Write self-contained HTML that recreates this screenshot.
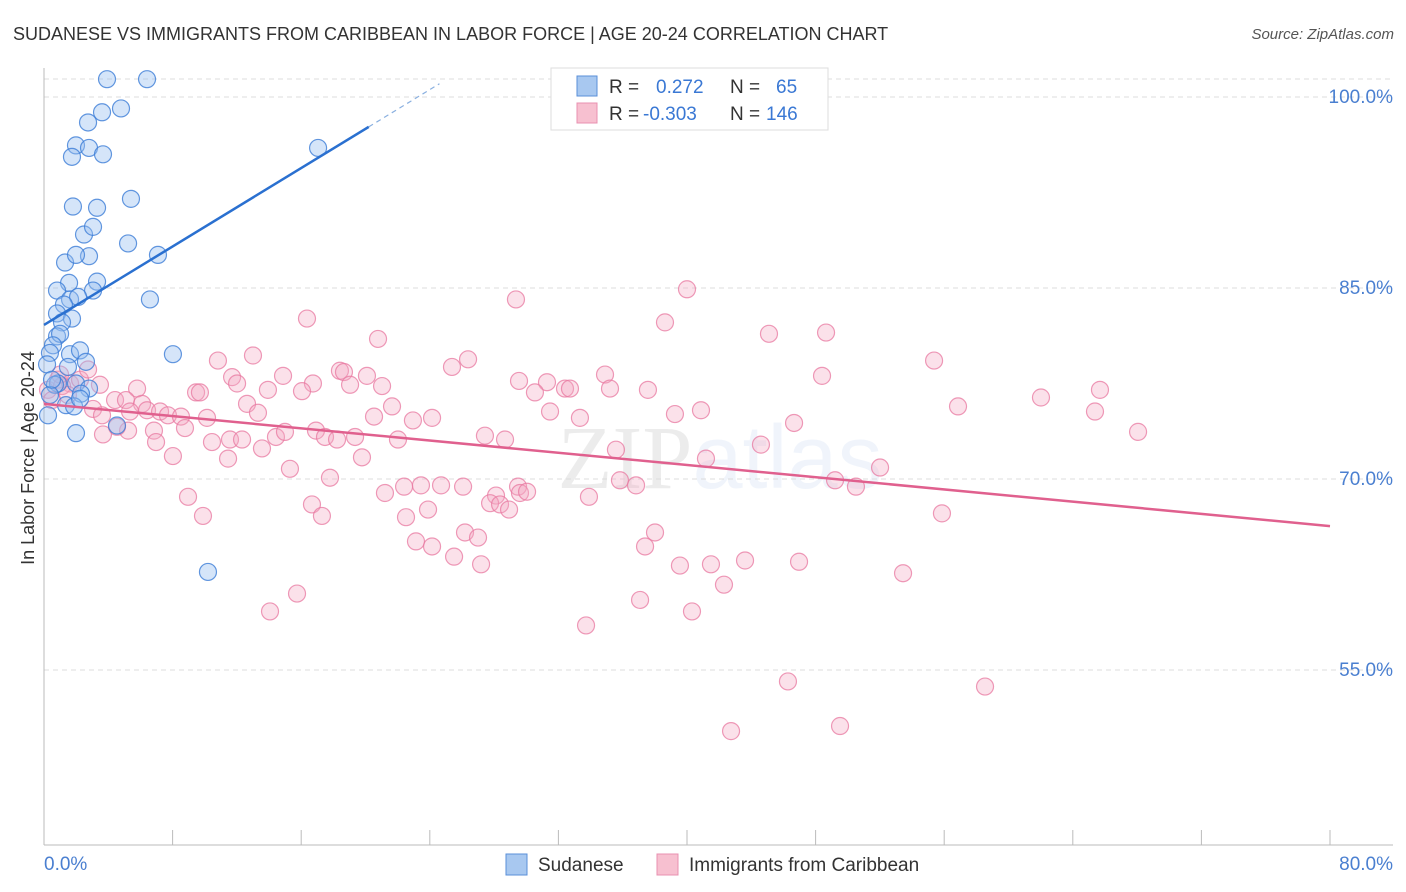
<!DOCTYPE html>
<html><head><meta charset="utf-8"><style>
body{margin:0;background:#fff;font-family:"Liberation Sans",sans-serif}
svg{display:block}
</style></head><body>
<svg id="chart" width="1406" height="892" xmlns="http://www.w3.org/2000/svg">
<text x="13" y="40" font-size="18" fill="#333">SUDANESE VS IMMIGRANTS FROM CARIBBEAN IN LABOR FORCE | AGE 20-24 CORRELATION CHART</text>
<text x="1394" y="39" font-size="15" fill="#555" font-style="italic" text-anchor="end">Source: ZipAtlas.com</text>
<text x="720" y="488" font-size="90" text-anchor="middle" fill="#000" opacity="0.07" font-family="Liberation Serif">ZIP<tspan fill="#3a78d4" opacity="1" font-family="Liberation Sans">atlas</tspan></text>
<g id="grid"></g>
<g id="axes"></g>
<g id="pts"></g>
<g id="lines"></g>
<text transform="translate(34,458) rotate(-90)" font-size="18" fill="#333" text-anchor="middle">In Labor Force | Age 20-24</text>
<g>
<rect x="551" y="68" width="277" height="62" fill="#fff" stroke="#ddd"/>
<rect x="577" y="76" width="20" height="20" fill="#a8c8f0" stroke="#5a8fd8"/>
<rect x="577" y="103" width="20" height="20" fill="#f7c0d0" stroke="#e890b0"/>
<text x="609" y="93" font-size="19" fill="#333">R = <tspan fill="#3a78d4" x="656">0.272</tspan><tspan x="730" fill="#333">N =</tspan><tspan x="776" fill="#3a78d4">65</tspan></text>
<text x="609" y="120" font-size="19" fill="#333">R = <tspan fill="#3a78d4" x="643">-0.303</tspan><tspan x="730" fill="#333">N =</tspan><tspan x="766" fill="#3a78d4">146</tspan></text>
</g>
<g>
<rect x="506" y="854" width="21" height="21" fill="#a8c8f0" stroke="#5a8fd8"/>
<text x="538" y="871" font-size="19" fill="#333">Sudanese</text>
<rect x="657" y="854" width="21" height="21" fill="#f7c0d0" stroke="#e890b0"/>
<text x="689" y="871" font-size="19" fill="#333">Immigrants from Caribbean</text>
</g>
</svg>
<script>
const yTicks=[100,85,70,55];
const yTickLabels=["100.0%","85.0%","70.0%","55.0%"];
const xTickLabels=["0.0%","80.0%"];
const blueX=[3.92,6.41,4.79,3.61,2.74,1.99,2.80,1.74,3.67,5.41,1.80,3.30,2.49,3.05,5.23,1.31,2.80,1.99,7.09,17.05,3.30,1.56,3.05,6.59,0.81,1.62,2.12,1.24,0.81,1.74,1.12,8.02,0.81,1.00,0.56,0.37,1.62,2.24,2.61,0.19,1.49,10.20,0.87,1.99,2.80,2.30,1.37,1.87,0.25,1.99,4.54,0.68,0.37,0.50,2.24];
const blueY=[101.4,101.4,99.1,98.8,98.0,96.2,96.0,95.3,95.5,92.0,91.4,91.3,89.2,89.8,88.5,87.0,87.5,87.6,87.6,96.0,85.5,85.4,84.8,84.1,84.8,84.1,84.3,83.7,83.0,82.6,82.3,79.8,81.2,81.4,80.5,79.9,79.8,80.1,79.2,79.0,78.8,62.7,77.5,77.5,77.1,76.7,75.8,75.7,75.0,73.6,74.2,77.4,76.6,77.8,76.3];
const pinkX=[16.36,29.36,40.00,38.63,45.10,48.65,20.78,10.82,13.00,26.38,25.38,55.37,18.41,18.66,11.70,20.09,16.73,19.04,21.03,12.01,14.87,13.93,16.05,29.55,31.29,30.54,32.41,32.72,34.90,35.21,37.57,48.40,65.69,9.46,9.70,5.79,4.42,5.10,6.10,6.41,5.35,7.22,3.05,3.61,7.71,8.52,10.14,12.63,13.31,21.65,20.53,24.14,22.95,31.48,33.34,39.25,40.87,46.66,56.86,62.02,65.38,68.06,6.84,8.77,5.23,3.67,4.54,6.97,10.45,11.57,12.32,13.56,14.43,14.99,16.92,17.48,18.23,19.35,22.02,27.43,28.68,19.78,11.45,8.02,35.58,44.60,41.18,15.30,52.01,17.79,8.96,16.67,17.29,9.89,21.21,22.40,23.45,24.70,26.07,28.12,29.49,29.61,30.05,27.75,28.37,28.93,33.90,35.83,36.83,49.21,50.51,22.52,23.89,23.14,24.14,26.19,27.00,25.51,27.19,38.01,37.39,39.56,41.49,43.61,46.97,42.30,53.44,55.86,37.08,40.31,15.74,14.06,33.72,46.28,58.54,42.74,49.52,0.25,0.87,1.62,1.12,2.24,2.74,3.48,0.50,1.49,1.00];
const pinkY=[82.6,84.1,84.9,82.3,81.4,81.5,81.0,79.3,79.7,79.4,78.8,79.3,78.5,78.4,78.0,78.1,77.5,77.4,77.3,77.5,78.1,77.0,76.9,77.7,77.6,76.8,77.1,77.1,78.2,77.1,77.0,78.1,77.0,76.8,76.8,77.1,76.2,76.2,75.9,75.4,75.3,75.3,75.5,75.0,75.0,74.9,74.8,75.9,75.2,75.7,74.9,74.8,74.6,75.3,74.8,75.1,75.4,74.4,75.7,76.4,75.3,73.7,73.8,74.0,73.8,73.5,74.1,72.9,72.9,73.1,73.1,72.4,73.3,73.7,73.8,73.3,73.1,73.3,73.1,73.4,73.1,71.7,71.6,71.8,72.3,72.7,71.6,70.8,70.9,70.1,68.6,68.0,67.1,67.1,68.9,69.4,69.5,69.5,69.4,68.7,69.4,68.9,69.0,68.1,68.0,67.6,68.6,69.9,69.5,69.9,69.4,67.0,67.6,65.1,64.7,65.8,65.4,63.9,63.3,65.8,64.7,63.2,63.3,63.6,63.5,61.7,62.6,67.3,60.5,59.6,61.0,59.6,58.5,54.1,53.7,50.2,50.6,77.0,77.8,77.5,77.3,77.8,78.6,77.4,76.2,76.6,78.2];
const blueLine=[82.1,0.77];
const pinkLine=[75.9,-0.12];
const NS="http://www.w3.org/2000/svg";
const X0=44,X1=1330,Y100=97,PXPER=12.733;
function xs(v){return X0+(v/80)*(X1-X0);}
function ys(v){return Y100+(100-v)*PXPER;}
function mk(tag,attrs,parent){const e=document.createElementNS(NS,tag);for(const k in attrs)e.setAttribute(k,attrs[k]);parent.appendChild(e);return e;}
const gridG=document.getElementById('grid'),axesG=document.getElementById('axes'),ptsG=document.getElementById('pts'),linesG=document.getElementById('lines');
const topLine=mk('line',{x1:44,x2:1393,y1:79,y2:79,stroke:'#ddd','stroke-dasharray':'5,4'},gridG);


yTicks.forEach((t,i)=>{
 const g=mk('line',{x1:44,x2:1393,y1:ys(t),y2:ys(t),stroke:'#ddd','stroke-dasharray':'5,4'},gridG);
 
 
 const l=mk('text',{x:1393,y:ys(t)+6,'font-size':19,fill:'#4a7fd0','text-anchor':'end'},gridG);
 l.textContent=yTickLabels[i];
 
 
});
const ya=mk('line',{x1:44,x2:44,y1:68,y2:845,stroke:'#bbb'},axesG);


const xa=mk('line',{x1:44,x2:1393,y1:845,y2:845,stroke:'#bbb'},axesG);


for(let i=0;i<=10;i++){
 const tk=mk('line',{x1:xs(i*8),x2:xs(i*8),y1:830,y2:845,stroke:'#bbb'},axesG);
 
 
}
const xl0=mk('text',{x:44,y:870,'font-size':19,fill:'#4a7fd0'},axesG);xl0.textContent=xTickLabels[0];


const xl1=mk('text',{x:1393,y:870,'font-size':19,fill:'#4a7fd0','text-anchor':'end'},axesG);xl1.textContent=xTickLabels[1];


pinkX.forEach((x,i)=>{
 const c=mk('circle',{cx:xs(x),cy:ys(pinkY[i]),r:8.5,fill:'rgba(244,170,195,0.35)',stroke:'rgba(232,120,160,0.75)','stroke-width':1.2},ptsG);
 
 
});
blueX.forEach((x,i)=>{
 const c=mk('circle',{cx:xs(x),cy:ys(blueY[i]),r:8.5,fill:'rgba(150,190,240,0.4)',stroke:'rgba(60,125,215,0.8)','stroke-width':1.2},ptsG);
 
 
});
const bl=mk('line',{x1:xs(0),y1:ys(blueLine[0]),x2:xs(20.2),y2:ys(blueLine[0]+blueLine[1]*20.2),stroke:'#2a70d0','stroke-width':2.5},linesG);


const bd=mk('line',{x1:xs(20.2),y1:ys(blueLine[0]+blueLine[1]*20.2),x2:xs(24.6),y2:ys(blueLine[0]+blueLine[1]*24.6),stroke:'#8ab0e0','stroke-width':1.2,'stroke-dasharray':'5,4'},linesG);


const pl=mk('line',{x1:xs(0),y1:ys(pinkLine[0]),x2:xs(80),y2:ys(pinkLine[0]+pinkLine[1]*80),stroke:'#e0608e','stroke-width':2.5},linesG);


</script>
</body></html>
